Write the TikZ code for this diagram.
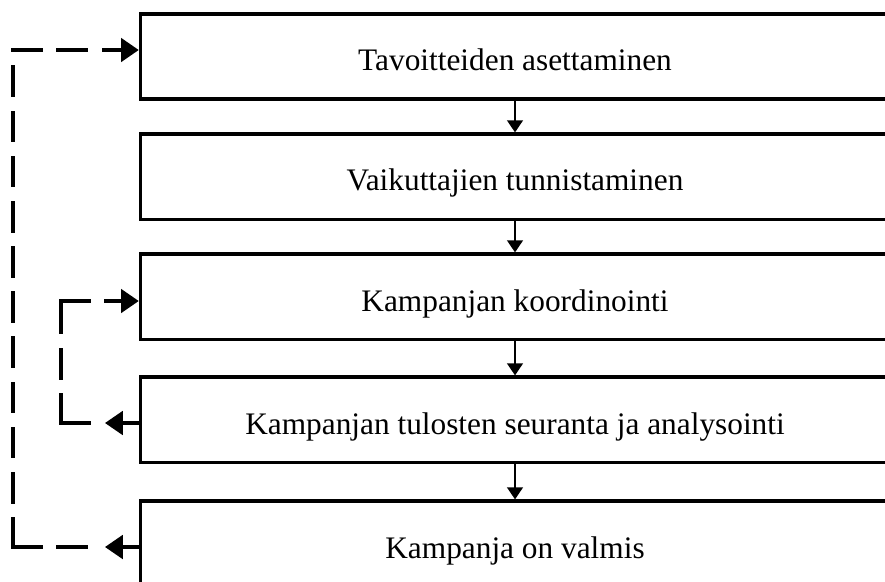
\documentclass[tikz,border=0pt]{standalone}
\usepackage{fontspec}
\setmainfont{Liberation Serif}
\usetikzlibrary{arrows.meta}

\begin{document}
\begin{tikzpicture}[x=0.383pt, y=-0.383pt,
  stage/.style={rectangle, draw=black, line width=1.2pt, minimum width=287pt,
                minimum height=32.6pt, font=\fontsize{12}{14}\selectfont,
                align=center, inner sep=0pt, text height=11.1pt, text depth=0pt},
  ar/.style={-{Triangle[length=4.6pt, width=6pt]}, line width=0.8pt},
  back/.style={-{Triangle[length=6.8pt, width=9pt]}, line width=1.2pt},
  loopline/.style={line width=1.3pt, line cap=rect, dash pattern=on 10.8pt off 6.5pt}
]
\useasboundingbox (0,0) rectangle (885,581);
\clip (0,0) rectangle (885,581);

\node[stage] (s1) at (515, 56.5)  {Tavoitteiden asettaminen};
\node[stage] (s2) at (515, 176.5) {Vaikuttajien tunnistaminen};
\node[stage] (s3) at (515, 296.5) {Kampanjan koordinointi};
\node[stage] (s4) at (515, 419.5) {Kampanjan tulosten seuranta ja analysointi};
\node[stage] (s5) at (515, 543.5) {Kampanja on valmis};

\draw[ar] (s1) -- (s2);
\draw[ar] (s2) -- (s3);
\draw[ar] (s3) -- (s4);
\draw[ar] (s4) -- (s5);

% inner loop: seuranta -> koordinointi
\coordinate (t4) at (105, 423);
\coordinate (d4) at (93, 423);
\coordinate (k4) at (61, 423);
\coordinate (k3) at (61, 301);
\draw[back] (t4 -| s4.west) -- (t4);
\draw[loopline] (k4) -- (d4);
\draw[loopline] (k4) -- (k3);
\draw[loopline, -{Triangle[length=6.8pt, width=9pt]}] (k3) -- (k3 -| s3.west);

% outer loop: valmis -> tavoitteet
\coordinate (t5) at (105, 547);
\coordinate (d5) at (93, 547);
\coordinate (k5) at (13, 547);
\coordinate (k1) at (13, 50);
\draw[back] (t5 -| s5.west) -- (t5);
\draw[loopline] (k5) -- (d5);
\draw[loopline] (k5) -- (k1);
\draw[loopline, -{Triangle[length=6.8pt, width=9pt]}] (k1) -- (k1 -| s1.west);

\end{tikzpicture}
\end{document}
